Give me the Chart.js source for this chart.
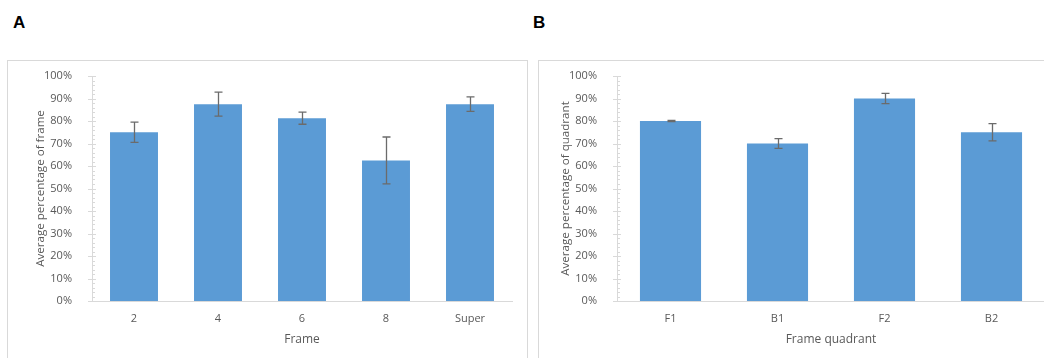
<!DOCTYPE html>
<html>
<head>
<meta charset="utf-8">
<script src="https://cdn.jsdelivr.net/npm/chart.js@4/dist/chart.umd.min.js"></script>
<style>
  html, body { margin: 0; padding: 0; background: #fff; overflow: hidden; }
  body { width: 1044px; height: 358px; position: relative; }
  .tag { position: absolute; top: 13px; font: bold 17px "Liberation Sans", Arial, sans-serif; color: #000; }
  .box { position: absolute; top: 60px; height: 320px; border: 1px solid #d9d9d9; box-sizing: border-box; }
  .wrap { position: absolute; top: 61px; height: 297px; }
</style>
</head>
<body>
<div class="tag" style="left:13px">A</div>
<div class="tag" style="left:533px">B</div>
<div class="box" style="left:7px; width:521px"></div>
<div class="box" style="left:538px; width:540px"></div>
<div class="wrap" style="left:8px; width:519px"><canvas id="chartA"></canvas></div>
<div class="wrap" style="left:539px; width:520px"><canvas id="chartB"></canvas></div>
<script>
// panel A
const frameLabels = ['2', '4', '6', '8', 'Super'];
const frameValues = [75, 87.5, 81.25, 62.5, 87.5];
const frameErrors = [4.5, 5.3, 2.7, 10.4, 3.2];

// panel B
const quadrantLabels = ['F1', 'B1', 'F2', 'B2'];
const quadrantValues = [80, 70, 90, 75];
const quadrantErrors = [0.3, 2.2, 2.3, 3.8];

const BAR = '#5b9bd5';
const TEXT = '#595959';
const AXIS = '#d9d9d9';
const FONT = '"Open Sans", sans-serif';

// y axis ticks drawn by hand: majors cross the axis, minors sit on the right
const axisTicks = {
    id: 'axisTicks',
    afterDraw(chart) {
        const y = chart.scales.y;
        const ctx = chart.ctx;
        const x0 = y.right;
        ctx.save();
        ctx.strokeStyle = AXIS;
        ctx.lineWidth = 1;
        for (let v = 0; v <= 100; v += 2) {
            const py = Math.round(y.getPixelForValue(v)) + 0.5;
            const major = v % 10 === 0;
            ctx.beginPath();
            ctx.moveTo(x0 - (major ? 4 : 0), py);
            ctx.lineTo(x0 + (major ? 4 : 3), py);
            ctx.stroke();
        }
        ctx.restore();
    }
};

const errorBars = {
    id: 'errorBars',
    afterDatasetsDraw(chart, args, opts) {
        const y = chart.scales.y;
        const ctx = chart.ctx;
        const meta = chart.getDatasetMeta(0);
        const values = chart.data.datasets[0].data;
        ctx.save();
        ctx.strokeStyle = '#6b6b6b';
        ctx.lineWidth = 1.3;
        meta.data.forEach((bar, i) => {
            const x = Math.round(bar.x) + 0.5;
            const top = y.getPixelForValue(values[i] + opts.errors[i]);
            const bot = y.getPixelForValue(values[i] - opts.errors[i]);
            ctx.beginPath();
            ctx.moveTo(x, top); ctx.lineTo(x, bot);
            ctx.moveTo(x - 4, top); ctx.lineTo(x + 4, top);
            ctx.moveTo(x - 4, bot); ctx.lineTo(x + 4, bot);
            ctx.stroke();
        });
        ctx.restore();
    }
};

function makeChart(id, labels, values, errors, xTitle, yTitle, yWidth, yTitlePad, padRight) {
    return new Chart(document.getElementById(id), {
        type: 'bar',
        data: {
            labels: labels,
            datasets: [{
                data: values,
                backgroundColor: BAR,
                borderWidth: 0,
                categoryPercentage: 1,
                barPercentage: 0.571
            }]
        },
        options: {
            responsive: true,
            maintainAspectRatio: false,
            animation: false,
            layout: { padding: { top: 0, right: padRight, bottom: 0, left: 0 } },
            plugins: {
                legend: { display: false },
                tooltip: { enabled: false },
                errorBars: { errors: errors }
            },
            scales: {
                x: {
                    grid: { display: false },
                    border: { display: true, color: AXIS, width: 1 },
                    ticks: { color: TEXT, font: { family: FONT, size: 11 }, padding: 3, maxRotation: 0 },
                    title: { display: true, text: xTitle, color: TEXT, font: { family: FONT, size: 12 }, padding: { top: 0, bottom: 11 } },
                    afterFit(scale) { scale.height = 57; }
                },
                y: {
                    min: 0,
                    max: 100,
                    grid: { display: false },
                    border: { display: true, color: AXIS, width: 1 },
                    ticks: {
                        stepSize: 10,
                        color: TEXT,
                        font: { family: FONT, size: 11 },
                        padding: 12,
                        callback: v => v + '%'
                    },
                    title: { display: true, text: yTitle, color: TEXT, font: { family: FONT, size: 11.6 }, padding: { top: yTitlePad, bottom: 0 } },
                    afterFit(scale) {
                        scale.width = yWidth;
                        scale.paddingTop = 15;
                        scale.paddingBottom = 10;
                    }
                }
            }
        },
        plugins: [axisTicks, errorBars]
    });
}

makeChart('chartA', frameLabels, frameValues, frameErrors, 'Frame', 'Average percentage of frame', 84, 26, 15);
makeChart('chartB', quadrantLabels, quadrantValues, quadrantErrors, 'Frame quadrant', 'Average percentage of quadrant', 78, 20, 14);
</script>
</body>
</html>
